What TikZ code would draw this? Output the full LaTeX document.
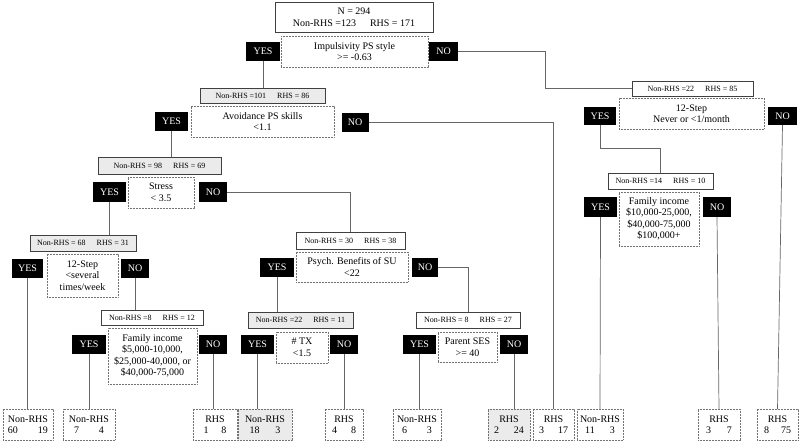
\documentclass[tikz,border=0pt]{standalone}
\usepackage{fontspec}
\setmainfont{Liberation Serif}
\begin{document}
\begin{tikzpicture}[x=1pt,y=-1pt,
 base/.style={inner sep=0pt, outer sep=0pt, align=center, font=\fontsize{10}{11.5}\selectfont},
 cnt/.style={base, draw=black!75, line width=0.7pt, fill=white, font=\fontsize{8}{9}\selectfont},
 cntg/.style={cnt, fill=black!8},
 rootbox/.style={cnt, font=\fontsize{10}{12}\selectfont},
 cond/.style={base, draw=black!55, dash pattern=on 0.6pt off 0.9pt, line width=0.9pt, fill=white},
 leafbox/.style={cond},
 leafg/.style={cond, fill=black!8},
 yes/.style={base, fill=black, text=white, minimum width=33pt, minimum height=19pt},
 no/.style={yes, minimum width=28pt},
 conn/.style={draw=black!60, line width=0.7pt},
]
\useasboundingbox (0,0) rectangle (800,442);
\newcommand{\gp}{\hspace{11pt}}
% root
\node[rootbox, minimum width=158pt, minimum height=30pt] (root) at (354,17) {N = 294\\Non-RHS =123\hspace{14pt}RHS = 171};
\node[cond, minimum width=147pt, minimum height=31pt] (imp) at (354.5,51.5) {Impulsivity PS style\\>= -0.63};
\node[yes, minimum width=34pt] (impY) at (263,51.5) {YES};
\node[no, minimum width=29pt] (impN) at (443.5,51.5) {NO};
% left branch
\node[cntg, minimum width=125pt, minimum height=15pt] (n101) at (262.5,95.5) {Non-RHS =101\gp RHS = 86};
\node[cond, minimum width=143pt, minimum height=31pt] (avo) at (262.5,121.5) {Avoidance PS skills\\<1.1};
\node[yes] (avoY) at (171.5,121.5) {YES};
\node[no, minimum width=27pt] (avoN) at (355,122) {NO};
\node[cntg, minimum width=123pt, minimum height=17pt] (n98) at (159.5,165.5) {Non-RHS = 98\gp RHS = 69};
\node[cond, minimum width=66pt, minimum height=31pt] (str) at (161,192.5) {Stress\\< 3.5};
\node[yes, minimum height=20pt] (strY) at (109.5,192) {YES};
\node[no, minimum height=20pt] (strN) at (213,192) {NO};
\node[cntg, minimum width=106pt, minimum height=16pt] (n68) at (83,243) {Non-RHS = 68\gp RHS = 31};
\node[cond, minimum width=71pt, minimum height=43pt] (s12) at (82.5,275.5) {12-Step\\<several\\times/week};
\node[yes, minimum width=31pt] (s12Y) at (27.5,268.5) {YES};
\node[no] (s12N) at (135,268.5) {NO};
\node[cnt, minimum width=102pt, minimum height=15pt] (n812) at (152,317.5) {Non-RHS =8\gp RHS = 12};
\node[cond, minimum width=89pt, minimum height=56pt] (fam1) at (152.5,356) {Family income\\\$5,000-10,000,\\\$25,000-40,000, or\\\$40,000-75,000};
\node[yes, minimum width=34pt] (f1Y) at (89,344.5) {YES};
\node[no] (f1N) at (213,344.5) {NO};
\node[cnt, minimum width=109pt, minimum height=17pt] (n30) at (350.5,240.5) {Non-RHS = 30\gp RHS = 38};
\node[cond, minimum width=112pt, minimum height=30pt] (psy) at (352,267) {Psych. Benefits of SU\\<22};
\node[yes, minimum width=34pt] (psY) at (277,267.5) {YES};
\node[no, minimum width=26pt] (psN) at (425,267.5) {NO};
\node[cntg, minimum width=105pt, minimum height=16pt] (n2211) at (300.5,320) {Non-RHS =22\gp RHS = 11};
\node[cond, minimum width=52pt, minimum height=31pt] (tx) at (302,347.5) {\# TX\\<1.5};
\node[yes] (txY) at (257.5,344.5) {YES};
\node[no] (txN) at (344,344.5) {NO};
\node[cnt, minimum width=104pt, minimum height=16pt] (n827) at (468,320) {Non-RHS = 8\gp RHS = 27};
\node[cond, minimum width=59pt, minimum height=30pt] (ses) at (467.5,347) {Parent SES\\>= 40};
\node[yes] (sesY) at (419.5,344.5) {YES};
\node[no] (sesN) at (514,344.5) {NO};
% right branch
\node[cnt, minimum width=121pt, minimum height=15pt] (n2285) at (692.5,88.5) {Non-RHS =22\gp RHS = 85};
\node[cond, minimum width=145pt, minimum height=31pt] (s12b) at (691.5,113.5) {12-Step\\Never or <1/month};
\node[yes, minimum width=32pt, minimum height=18pt] (sbY) at (600,116) {YES};
\node[no, minimum width=29pt, minimum height=18pt] (sbN) at (782.5,116) {NO};
\node[cnt, minimum width=105pt, minimum height=16pt] (n1410) at (660.5,181) {Non-RHS =14\gp RHS = 10};
\node[cond, minimum width=80pt, minimum height=54pt] (fam2) at (659,219) {Family income\\\$10,000-25,000,\\\$40,000-75,000\\\$100,000+};
\node[yes, minimum height=20pt] (f2Y) at (600.5,207) {YES};
\node[no, minimum height=20pt] (f2N) at (717,207) {NO};
% leaves
\node[leafbox, minimum width=50pt, minimum height=31pt] (L1) at (28,424.5) {Non-RHS\\60\hspace{20pt}19};
\node[leafbox, minimum width=52pt, minimum height=31pt] (L2) at (89,424.5) {Non-RHS\\7\hspace{20pt}4};
\node[leafbox, minimum width=44pt, minimum height=31pt] (L3) at (215,424.5) {RHS\\1\hspace{13pt}8};
\node[leafg, minimum width=54pt, minimum height=31pt] (L4) at (265,424.5) {Non-RHS\\18\hspace{16pt}3};
\node[leafbox, minimum width=38pt, minimum height=31pt] (L5) at (344,424.5) {RHS\\4\hspace{14pt}8};
\node[leafbox, minimum width=48pt, minimum height=31pt] (L6) at (417,424.5) {Non-RHS\\6\hspace{20pt}3};
\node[leafg, minimum width=42pt, minimum height=31pt] (L7) at (509,424.5) {RHS\\2\hspace{15pt}24};
\node[leafbox, minimum width=41pt, minimum height=31pt] (L8) at (553.5,424.5) {RHS\\3\hspace{14pt}17};
\node[leafbox, minimum width=46pt, minimum height=31pt] (L9) at (600,424.5) {Non-RHS\\11\hspace{15pt}3};
\node[leafbox, minimum width=42pt, minimum height=31pt] (L10) at (719,424.5) {RHS\\3\hspace{16pt}7};
\node[leafbox, minimum width=41pt, minimum height=31pt] (L11) at (777.5,424.5) {RHS\\8\hspace{12pt}75};
% junction points
\coordinate (j1) at (545,51.5);
\coordinate (j2) at (660.5,148);
% connectors
\draw[conn] (impY.south) -- (impY.south |- n101.north);
\draw[conn] (impN.east) -- (j1) |- (n2285.west);
\draw[conn] (avoY.south) -- (avoY.south |- n98.north);
\draw[conn] (avoN.east) -| (L8.north);
\draw[conn] (strY.south) -- (strY.south |- n68.north);
\draw[conn] (strN.east) -| (n30.north);
\draw[conn] (s12Y.south) -- (s12Y.south |- L1.north);
\draw[conn] (s12N.south) -- (s12N.south |- n812.north);
\draw[conn] (f1Y.south) -- (f1Y.south |- L2.north);
\draw[conn] (f1N.south) -- (f1N.south |- L3.north);
\draw[conn] (psY.south) -- (psY.south |- n2211.north);
\draw[conn] (psN.east) -| (n827.north);
\draw[conn] (txY.south) -- (txY.south |- L4.north);
\draw[conn] (txN.south) -- (txN.south |- L5.north);
\draw[conn] (sesY.south) -- (sesY.south |- L6.north);
\draw[conn] (sesN.south) -- (sesN.south |- L7.north);
\draw[conn] (sbY.south) |- (j2) -- (n1410.north);
\draw[conn] (sbN.south) -- (L11.north);
\draw[conn] (f2Y.south) -- (L9.north);
\draw[conn] (f2N.south) -- (L10.north);
\end{tikzpicture}
\end{document}
